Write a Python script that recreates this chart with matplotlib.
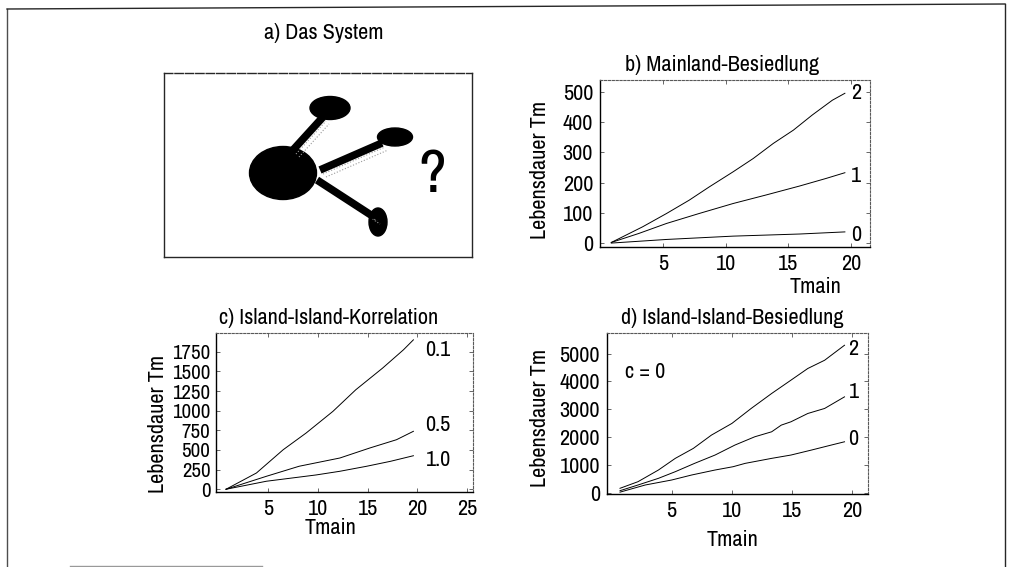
import matplotlib
matplotlib.use("Agg")
import matplotlib.pyplot as plt
from matplotlib.patches import Ellipse
from matplotlib.lines import Line2D

# schmale Grotesk wie im Original, sonst Liberation
plt.rcParams['font.family'] = ['Archivo Narrow', 'Liberation Sans', 'DejaVu Sans']

# b) Mainland-Besiedlung
tmain_b = [0.9, 3.4, 5.3, 7.1, 8.7, 10.6, 12.2, 13.8, 15.4, 16.9, 18.5, 19.5]
b_m2 = [2, 54, 98, 142, 186, 236, 280, 330, 374, 424, 473, 496]
tmain_b1 = [0.9, 3.1, 5.3, 7.9, 10.6, 13.2, 15.9, 18.0, 19.5]
b_m1 = [2, 32, 65, 98, 131, 159, 189, 214, 233]
tmain_b0 = [0.9, 5.3, 10.6, 15.9, 19.5]
b_m0 = [0, 12, 23, 30, 37]
labels_b = ["2", "1", "0"]

# c) Island-Island-Korrelation
tmain_c = [0.74, 3.8, 6.5, 8.8, 11.5, 13.8, 16.5, 18.6, 19.6]
c_01 = [0, 207, 504, 716, 992, 1267, 1543, 1776, 1903]
tmain_c2 = [0.74, 4.8, 8.1, 12.2, 15.2, 17.9, 19.6]
c_05 = [0, 165, 293, 398, 525, 631, 738]
tmain_c3 = [0.74, 4.8, 9.8, 12.2, 14.9, 17.3, 19.6]
c_10 = [0, 102, 182, 229, 293, 356, 427]
labels_c = ["0.1", "0.5", "1.0"]

# d) Island-Island-Besiedlung, c = 0
tmain_d = [0.71, 2.2, 3.9, 5.3, 6.8, 8.3, 10.0, 11.6, 13.3, 14.9, 16.3, 17.7, 19.35]
d_2 = [158, 395, 815, 1234, 1593, 2070, 2490, 3028, 3566, 4044, 4464, 4761, 5300]
tmain_d1 = [0.71, 2.2, 3.9, 5.3, 6.9, 8.6, 10.25, 11.9, 13.3, 14.1, 14.9, 16.3, 17.7, 19.35]
d_1 = [72, 276, 516, 755, 1054, 1353, 1712, 2010, 2189, 2429, 2548, 2847, 3028, 3445]
tmain_d0 = [0.71, 2.8, 5.0, 6.65, 8.6, 10.1, 11.1, 13.3, 14.9, 16.6, 18.25, 19.35]
d_0 = [20, 276, 456, 635, 815, 934, 1054, 1234, 1353, 1532, 1712, 1830]
labels_d = ["2", "1", "0"]

# a) Skizze: Festland + Inseln (Pixelkoordinaten im Kasten)
mainland = (283, 173, 67, 53)
islands = [(330, 108, 40, 23), (395, 137, 35, 18), (378, 222, 18, 28)]
spokes = [((293, 150), (323, 117)), ((320, 170), (382, 143)), ((317, 180), (374, 217))]

W, H = 1010, 567
FS = 16
fig = plt.figure(figsize=(W / 100, H / 100), dpi=100)


def box(x0, y0, x1, y1):
    return [x0 / W, 1 - y1 / H, (x1 - x0) / W, (y1 - y0) / H]


def frame(ax):
    for s in ['left', 'bottom']:
        ax.spines[s].set_linewidth(1.0)
        ax.spines[s].set_color('black')
    for s in ['top', 'right']:
        ax.spines[s].set_linewidth(0.8)
        ax.spines[s].set_color('0.35')
        ax.spines[s].set_linestyle((0, (2, 1.5)))
    ax.tick_params(direction='in', length=3, width=0.6, color='0.3',
                   top=True, right=True, pad=5)


# a)
axa = fig.add_axes(box(164, 73, 472, 257))
axa.set_xlim(164, 472)
axa.set_ylim(257, 73)
axa.set_xticks([])
axa.set_yticks([])
for s in axa.spines.values():
    s.set_linewidth(1.0)
    s.set_color('0.15')
axa.spines['top'].set_linestyle((0, (6, 1.5)))
for (p, q) in spokes:
    for off in (3, 6):
        axa.plot([p[0] + off, q[0] + off], [p[1] + off + 1, q[1] + off + 1],
                 color='0.6', lw=0.8, ls=':')
    axa.plot([p[0], q[0]], [p[1], q[1]], color='black', lw=5.5, solid_capstyle='butt')
axa.add_patch(Ellipse(mainland[:2], mainland[2], mainland[3], color='black'))
for (x, y, w, h) in islands:
    axa.add_patch(Ellipse((x, y), w, h, color='black'))
axa.text(432, 176, "?", fontsize=44, ha='center', va='center')
fig.text(324 / W, 1 - 33 / H, "a) Das System", fontsize=FS, ha='center', va='center')

# b)
axb = fig.add_axes(box(600, 80, 870, 247))
axb.plot(tmain_b, b_m2, color='black', lw=0.7)
axb.plot(tmain_b1, b_m1, color='black', lw=0.7)
axb.plot(tmain_b0, b_m0, color='black', lw=0.7)
axb.set_xlim(0, 21.5)
axb.set_ylim(-13, 540)
axb.set_xticks([5, 10, 15, 20])
axb.set_yticks([0, 100, 200, 300, 400, 500])
frame(axb)
axb.tick_params(labelsize=FS)
for lab, yy in zip(labels_b, [497, 222, 26]):
    axb.text(20.4, yy, lab, fontsize=FS, ha='center', va='center')
axb.set_xlabel("Tmain", fontsize=FS)
axb.xaxis.set_label_coords(0.8, -0.18)
axb.set_ylabel("Lebensdauer Tm", fontsize=FS)
axb.yaxis.set_label_coords(-0.185, 0.46)
fig.text(722 / W, 1 - 65 / H, "b) Mainland-Besiedlung", fontsize=FS, ha='center', va='center')

# c)
axc = fig.add_axes(box(216, 333, 473, 492))
axc.plot(tmain_c, c_01, color='black', lw=0.7)
axc.plot(tmain_c2, c_05, color='black', lw=0.7)
axc.plot(tmain_c3, c_10, color='black', lw=0.7)
axc.set_xlim(-0.27, 25.6)
axc.set_ylim(-35, 1990)
axc.set_xticks([5, 10, 15, 20, 25])
axc.set_yticks([0, 250, 500, 750, 1000, 1250, 1500, 1750])
frame(axc)
axc.tick_params(axis='x', labelsize=FS)
axc.tick_params(axis='y', labelsize=15, pad=4)
for lab, yy in zip(labels_c, [1772, 818, 373]):
    axc.text(22.1, yy, lab, fontsize=FS, ha='center', va='center')
axc.set_xlabel("Tmain", fontsize=FS)
axc.xaxis.set_label_coords(0.447, -0.164)
axc.set_ylabel("Lebensdauer Tm", fontsize=FS)
axc.yaxis.set_label_coords(-0.187, 0.43)
fig.text(329 / W, 1 - 318 / H, "c) Island-Island-Korrelation", fontsize=FS, ha='center', va='center')

# d)
axd = fig.add_axes(box(607, 333, 868, 494))
axd.plot(tmain_d, d_2, color='black', lw=0.7)
axd.plot(tmain_d1, d_1, color='black', lw=0.7)
axd.plot(tmain_d0, d_0, color='black', lw=0.7)
axd.set_xlim(-0.37, 21.3)
axd.set_ylim(-47, 5740)
axd.set_xticks([5, 10, 15, 20])
axd.set_yticks([0, 1000, 2000, 3000, 4000, 5000])
frame(axd)
axd.tick_params(labelsize=FS)
for lab, yy in zip(labels_d, [5180, 3625, 1915]):
    axd.text(20.1, yy, lab, fontsize=FS, ha='center', va='center')
axd.text(2.8, 4350, "c = 0", fontsize=FS, ha='center', va='center')
axd.set_xlabel("Tmain", fontsize=FS)
axd.xaxis.set_label_coords(0.48, -0.224)
axd.set_ylabel("Lebensdauer Tm", fontsize=FS)
axd.yaxis.set_label_coords(-0.218, 0.47)
fig.text(732 / W, 1 - 318 / H, "d) Island-Island-Besiedlung", fontsize=FS, ha='center', va='center')


# Rahmen um die ganze Abbildung
def px_line(xs, ys, **kw):
    fig.add_artist(Line2D([x / W for x in xs], [1 - y / H for y in ys], **kw))


px_line([7, 7], [9, 567], color='0.3', lw=1.0)
px_line([7, 1005], [9, 4], color='0.15', lw=1.0)
px_line([1005, 1005], [4, 567], color='0.15', lw=1.0)
px_line([70, 262], [566, 566], color='0.6', lw=1.0)

fig.savefig("out.png", dpi=100)
